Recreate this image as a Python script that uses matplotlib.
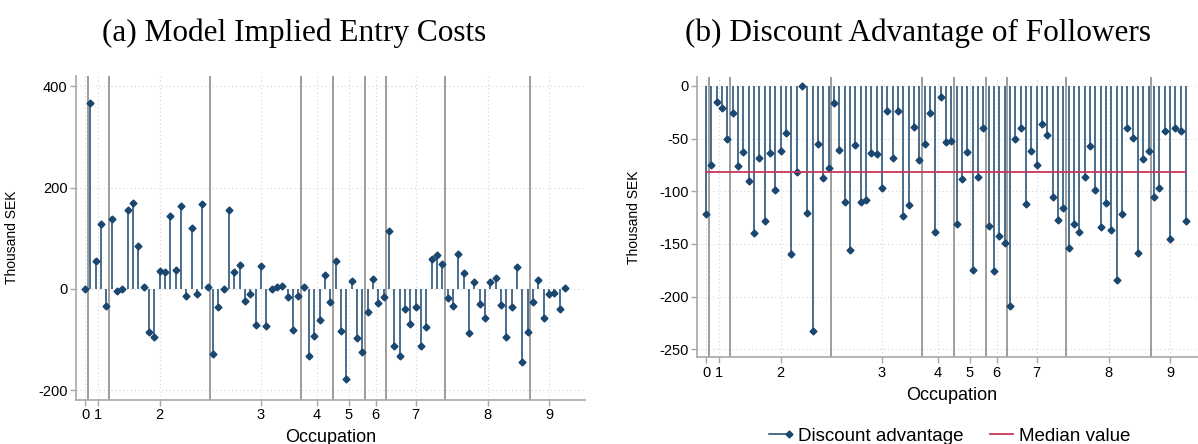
import matplotlib
matplotlib.use("Agg")
import matplotlib.pyplot as plt
import numpy as np
from matplotlib.lines import Line2D
from matplotlib.legend_handler import HandlerBase

plt.rcParams['font.family'] = ['Liberation Sans', 'DejaVu Sans']

# values, one per occupation cell (left to right)
entry_costs = [0, 366, 56, 129, -33, 137, -4, -1, 155, 170,
               85, 3, -85, -94, 35, 34, 143, 37, 164, -14,
               121, -9, 168, 3, -129, -36, 0, 156, 33, 47,
               -24, -10, -71, 45, -74, -1, 4, 5, -16, -81,
               -13, 3, -133, -92, -61, 27, -26, 56, -83, -177,
               15, -96, -125, -46, 20, -28, -16, 114, -113, -133,
               -39, -70, -35, -113, -75, 60, 66, 49, -17, -33,
               68, 31, -86, 14, -30, -57, 13, 22, -31, -94,
               -35, 43, -145, -85, -26, 18, -58, -9, -7, -39, 2]

discount = [-122, -75, -15, -21, -50, -26, -76, -63, -90, -140,
            -68, -128, -64, -99, -62, -45, -160, -82, 0, -121,
            -233, -55, -87, -78, -16, -61, -110, -156, -56, -110,
            -108, -64, -65, -97, -24, -68, -24, -123, -113, -39,
            -70, -55, -26, -139, -10, -53, -52, -131, -88, -63,
            -175, -86, -40, -133, -176, -142, -149, -209, -50, -40,
            -112, -62, -75, -36, -47, -105, -127, -116, -154, -131,
            -139, -86, -57, -99, -134, -111, -137, -184, -122, -40,
            -49, -159, -69, -62, -105, -97, -43, -145, -40, -43, -128]

median_value = -81.5

# occupation groups: boundaries between cells and tick positions
group_bounds = [1.5, 5.5, 24.5, 41.5, 47.5, 53.5, 57.5, 68.5, 84.5]
tick_pos = [1, 3.5, 15, 34, 44.5, 50.5, 55.5, 63, 76.5, 88]
tick_labels = ['0', '1', '2', '3', '4', '5', '6', '7', '8', '9']

NAVY = '#1a476f'
RED = '#c8365a'
AXGRAY = '#a8a8a8'

W, H = 1198, 444


def px_axes(fig, left, top, right, bottom):
    return fig.add_axes([left / W, 1 - bottom / H, (right - left) / W, (bottom - top) / H])


def style_axes(ax, yticks):
    for side in ['top', 'right']:
        ax.spines[side].set_visible(False)
    for side in ['left', 'bottom']:
        ax.spines[side].set_color(AXGRAY)
        ax.spines[side].set_linewidth(1.2)
    ax.set_xticks(tick_pos)
    ax.set_xticklabels(tick_labels)
    ax.set_yticks(yticks)
    ax.set_yticklabels([str(v) for v in yticks])
    ax.tick_params(colors=AXGRAY, labelcolor='black', labelsize=10.5,
                   length=4, width=1.0, direction='out', pad=2)
    ax.grid(True, color='#d4d4d4', linestyle=(0, (1, 2.5)), linewidth=0.8)
    ax.set_axisbelow(True)
    ax.set_xlim(-0.69, 94.75)


def draw_stems(ax, vals):
    x = np.arange(1, len(vals) + 1)
    for b in group_bounds:
        ax.axvline(b, color='#8c8c8c', lw=1.2, zorder=2)
    ax.vlines(x, 0, vals, color=NAVY, lw=1.1, zorder=3)
    ax.plot(x, vals, ls='none', marker='D', ms=3.5, color=NAVY, zorder=4)
    return x


class StemKey(HandlerBase):
    def create_artists(self, legend, orig_handle, xdescent, ydescent,
                       width, height, fontsize, trans):
        y = height / 2 - ydescent
        line = Line2D([-xdescent, width - xdescent], [y, y], color=NAVY,
                      lw=1.1, transform=trans)
        tip = Line2D([width - xdescent - 2], [y], marker='D', ms=3.5,
                     color=NAVY, ls='none', transform=trans)
        return [line, tip]


fig = plt.figure(figsize=(W / 100, H / 100), dpi=100)

# (a) entry costs
ax1 = px_axes(fig, 76, 76, 585, 399.5)
draw_stems(ax1, entry_costs)
style_axes(ax1, [-200, 0, 200, 400])
ax1.set_ylim(-218, 420)
ax1.set_ylabel('Thousand SEK', fontsize=10)
ax1.yaxis.set_label_coords(-56.5 / 509, 0.5)
ax1.set_xlabel('Occupation', fontsize=13)
ax1.xaxis.set_label_coords(0.5, (399.5 - 437) / 323.5)
ax1.xaxis.label.set_va('center')

# (b) discount advantage
ax2 = px_axes(fig, 697, 76.7, 1206, 357.3)
x = draw_stems(ax2, discount)
ax2.plot([x[0], x[-1]], [median_value, median_value], color=RED, lw=1.3, zorder=5)
style_axes(ax2, [-250, -200, -150, -100, -50, 0])
ax2.set_ylim(-257.6, 8.8)
ax2.set_ylabel('Thousand SEK', fontsize=10)
ax2.yaxis.set_label_coords(-55.5 / 509, 0.5)
ax2.set_xlabel('Occupation', fontsize=13)
ax2.xaxis.set_label_coords(0.5, (357.3 - 395) / 280.6)
ax2.xaxis.label.set_va('center')

fig.text(294 / W, 1 - 41.5 / H, '(a) Model Implied Entry Costs',
         family='Liberation Serif', fontsize=22.5, ha='center', va='baseline')
fig.text(918 / W, 1 - 41.5 / H, '(b) Discount Advantage of Followers',
         family='Liberation Serif', fontsize=22.5, ha='center', va='baseline')

stem_proxy = Line2D([], [], color=NAVY)
med_proxy = Line2D([], [], color=RED, lw=1.3)
fig.legend([stem_proxy, med_proxy], ['Discount advantage', 'Median value'],
           handler_map={stem_proxy: StemKey()},
           loc='center', bbox_to_anchor=(950 / W, 1 - 436 / H), ncol=2,
           frameon=False, fontsize=13.5, handlelength=1.2, handletextpad=0.35,
           columnspacing=1.4, borderpad=0, borderaxespad=0)

fig.savefig('out.png', dpi=100)
